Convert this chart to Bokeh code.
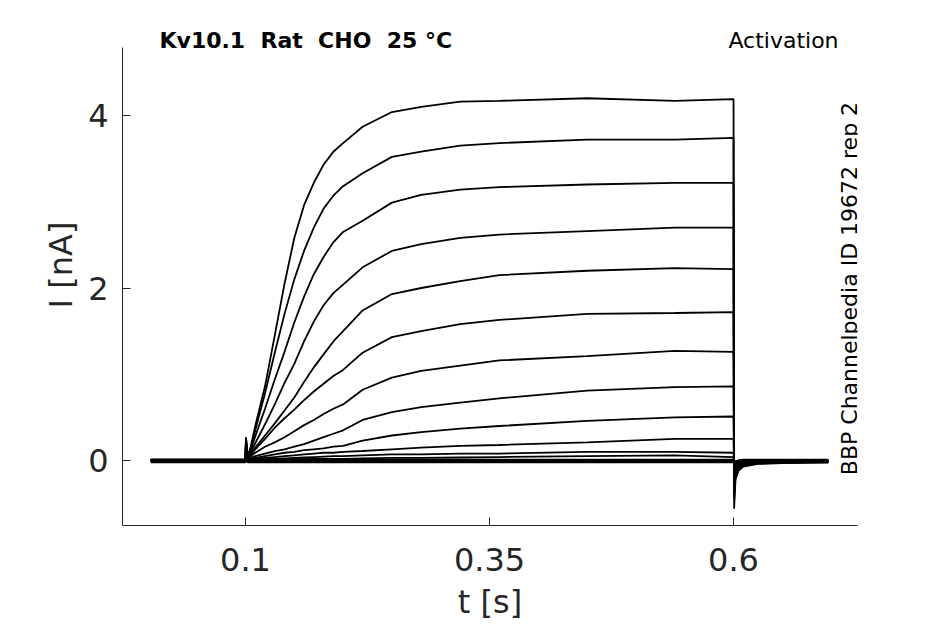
from bokeh.plotting import figure
from bokeh.models import Range1d, FixedTicker, Label
from bokeh.embed import file_html
from bokeh.resources import INLINE

# time points (s): pre-pulse, step, tail
T = [0.003, 0.0995,
     0.1, 0.1005, 0.102, 0.105, 0.11, 0.12, 0.13, 0.14, 0.15, 0.16, 0.17,
     0.18, 0.19, 0.2, 0.22, 0.25, 0.28, 0.32, 0.36, 0.45, 0.54, 0.6,
     0.6006, 0.602, 0.605, 0.61, 0.625, 0.65, 0.697]

# currents (nA), one list per sweep
trace_01 = [0.005, 0.005,
            0, 0.27, 0.05, 0.14, 0.40, 0.86, 1.45, 2.05, 2.58, 2.96, 3.22,
            3.43, 3.58, 3.68, 3.87, 4.04, 4.10, 4.16, 4.17, 4.20, 4.17, 4.19,
            -0.56, -0.22, -0.12, -0.07, -0.04, -0.03, -0.02]
trace_02 = [0.0, 0.0,
            0, 0.27, 0.04, 0.13, 0.35, 0.78, 1.25, 1.70, 2.10, 2.43, 2.70,
            2.92, 3.07, 3.18, 3.33, 3.52, 3.58, 3.65, 3.68, 3.72, 3.72, 3.74,
            -0.45, -0.18, -0.10, -0.06, -0.035, -0.025, -0.02]
trace_03 = [-0.005, -0.005,
            0, 0.26, 0.04, 0.11, 0.28, 0.60, 0.94, 1.26, 1.60, 1.90, 2.16,
            2.36, 2.53, 2.65, 2.78, 2.99, 3.08, 3.14, 3.17, 3.20, 3.22, 3.22,
            -0.38, -0.15, -0.09, -0.05, -0.03, -0.02, -0.015]
trace_04 = [0.01, 0.01,
            0, 0.25, 0.03, 0.09, 0.20, 0.42, 0.65, 0.90, 1.12, 1.38, 1.61,
            1.80, 1.94, 2.04, 2.24, 2.43, 2.51, 2.58, 2.62, 2.66, 2.70, 2.70,
            -0.30, -0.12, -0.07, -0.045, -0.03, -0.02, -0.015]
trace_05 = [0.0, 0.0,
            0, 0.24, 0.03, 0.07, 0.15, 0.29, 0.43, 0.58, 0.73, 0.91, 1.08,
            1.23, 1.38, 1.50, 1.74, 1.93, 2.00, 2.08, 2.15, 2.20, 2.23, 2.22,
            -0.24, -0.10, -0.06, -0.04, -0.025, -0.02, -0.01]
trace_06 = [-0.01, -0.01,
            0, 0.22, 0.02, 0.06, 0.13, 0.25, 0.38, 0.49, 0.59, 0.70, 0.80,
            0.89, 0.98, 1.05, 1.25, 1.43, 1.50, 1.58, 1.63, 1.70, 1.71, 1.72,
            -0.18, -0.08, -0.05, -0.03, -0.02, -0.015, -0.01]
trace_07 = [0.005, 0.005,
            0, 0.20, 0.02, 0.05, 0.09, 0.16, 0.21, 0.27, 0.34, 0.41, 0.47,
            0.54, 0.60, 0.65, 0.82, 0.96, 1.04, 1.10, 1.16, 1.21, 1.27, 1.26,
            -0.13, -0.06, -0.04, -0.025, -0.015, -0.01, -0.01]
trace_08 = [0.0, 0.0,
            0, 0.18, 0.01, 0.03, 0.05, 0.08, 0.11, 0.13, 0.16, 0.19, 0.23,
            0.27, 0.31, 0.35, 0.47, 0.56, 0.62, 0.67, 0.72, 0.81, 0.85, 0.86,
            -0.09, -0.045, -0.03, -0.02, -0.01, -0.01, -0.005]
trace_09 = [-0.005, -0.005,
            0, 0.15, 0.01, 0.02, 0.03, 0.05, 0.07, 0.09, 0.10, 0.12, 0.13,
            0.14, 0.16, 0.17, 0.23, 0.29, 0.33, 0.37, 0.40, 0.46, 0.50, 0.51,
            -0.06, -0.03, -0.02, -0.015, -0.01, -0.005, 0.0]
trace_10 = [0.01, 0.01,
            0, 0.12, 0.01, 0.01, 0.02, 0.03, 0.04, 0.05, 0.06, 0.07, 0.08,
            0.09, 0.09, 0.10, 0.11, 0.13, 0.15, 0.17, 0.18, 0.21, 0.25, 0.25,
            -0.04, -0.02, -0.015, -0.01, -0.005, 0.0, 0.0]
trace_11 = [-0.01, -0.01,
            0, 0.10, 0.0, 0.01, 0.01, 0.015, 0.02, 0.025, 0.03, 0.035, 0.04,
            0.045, 0.05, 0.05, 0.06, 0.07, 0.07, 0.08, 0.08, 0.10, 0.10, 0.09,
            -0.03, -0.015, -0.01, -0.005, 0.0, 0.0, 0.0]
trace_12 = [0.0, 0.0,
            0, 0.08, 0.0, 0.0, 0.005, 0.01, 0.01, 0.01, 0.015, 0.015, 0.02,
            0.02, 0.02, 0.02, 0.025, 0.03, 0.03, 0.035, 0.04, 0.05, 0.06, 0.04,
            -0.02, -0.01, -0.005, 0.0, 0.0, 0.0, 0.005]
trace_13 = [0.01, 0.01,
            0.01, 0.06, 0.01, 0.01, 0.01, 0.01, 0.01, 0.01, 0.01, 0.01, 0.01,
            0.01, 0.01, 0.01, 0.01, 0.01, 0.01, 0.01, 0.01, 0.01, 0.01, 0.01,
            -0.02, -0.01, 0.0, 0.01, 0.01, 0.01, 0.01]
trace_14 = [0.0, 0.0,
            0.0, 0.05, 0.0, 0.0, 0.0, 0.0, 0.0, 0.0, 0.0, 0.0, 0.0,
            0.0, 0.0, 0.0, 0.0, 0.0, 0.0, 0.0, 0.0, 0.0, 0.0, 0.0,
            -0.02, -0.01, 0.0, 0.0, 0.0, 0.0, 0.0]
trace_15 = [-0.01, -0.01,
            -0.01, 0.04, -0.01, -0.01, -0.01, -0.01, -0.01, -0.01, -0.01, -0.01, -0.01,
            -0.01, -0.01, -0.01, -0.01, -0.01, -0.01, -0.01, -0.01, -0.01, -0.01, -0.01,
            -0.03, -0.02, -0.015, -0.01, -0.01, -0.01, -0.01]
trace_16 = [-0.02, -0.02,
            -0.02, 0.03, -0.02, -0.02, -0.02, -0.02, -0.02, -0.02, -0.02, -0.02, -0.02,
            -0.02, -0.02, -0.02, -0.02, -0.02, -0.02, -0.02, -0.02, -0.02, -0.02, -0.02,
            -0.04, -0.03, -0.025, -0.02, -0.02, -0.02, -0.02]

TRACES = [trace_01, trace_02, trace_03, trace_04, trace_05, trace_06, trace_07, trace_08,
          trace_09, trace_10, trace_11, trace_12, trace_13, trace_14, trace_15, trace_16]

X_TICKS = [0.1, 0.35, 0.6]
X_TICK_LABELS = ["0.1", "0.35", "0.6"]
Y_TICKS = [0, 2, 4]
Y_TICK_LABELS = ["0", "2", "4"]

# double gaps kept with a no-break space so SVG does not collapse them
TITLE_TEXT = "Kv10.1\u00a0 Rat\u00a0 CHO\u00a0 25 \u00b0C"
PROTOCOL_TEXT = "Activation"
SOURCE_TEXT = "BBP Channelpedia ID 19672 rep 2"

FONT = "DejaVu Sans"
AX_COLOR = "#262626"

X_MIN, X_MAX = -0.026, 0.727
Y_AXIS_MIN, Y_AXIS_MAX = -0.7536, 4.788   # extent of the drawn y axis
Y_VIEW_MAX = 5.287                        # room above the axes for the header texts

p = figure(width=944, height=624, output_backend="svg", toolbar_location=None,
           title=None,
           x_range=Range1d(X_MIN, X_MAX), y_range=Range1d(Y_AXIS_MIN, Y_VIEW_MAX),
           min_border_left=122, min_border_right=87, min_border_top=4,
           min_border_bottom=99)
p.outline_line_color = None
p.xgrid.visible = False
p.ygrid.visible = False
p.background_fill_color = "white"
p.border_fill_color = "white"

for tr in TRACES:
    p.line(T, tr, line_color="black", line_width=1.8)

for ax in (p.xaxis[0], p.yaxis[0]):
    ax.axis_line_color = AX_COLOR
    ax.axis_line_width = 1
    ax.major_tick_line_color = AX_COLOR
    ax.major_tick_in = 8
    ax.major_tick_out = 0
    ax.minor_tick_line_color = None
    ax.major_label_text_font = FONT
    ax.major_label_text_font_size = "32px"
    ax.major_label_text_color = AX_COLOR
    ax.axis_label_text_font = FONT
    ax.axis_label_text_font_size = "32px"
    ax.axis_label_text_font_style = "normal"
    ax.axis_label_text_color = AX_COLOR

p.yaxis.bounds = (Y_AXIS_MIN, Y_AXIS_MAX)
p.xaxis.ticker = FixedTicker(ticks=X_TICKS)
p.xaxis.major_label_overrides = dict(zip(X_TICKS, X_TICK_LABELS))
p.yaxis.ticker = FixedTicker(ticks=Y_TICKS)
p.yaxis.major_label_overrides = dict(zip(Y_TICKS, Y_TICK_LABELS))
p.xaxis.axis_label = "t [s]"
p.yaxis.axis_label = "I [nA]"
p.xaxis.major_label_standoff = 22
p.yaxis.major_label_standoff = 14
p.xaxis.axis_label_standoff = 9
p.yaxis.axis_label_standoff = 5

p.add_layout(Label(x=0.0119, y=4.873, text=TITLE_TEXT, text_font=FONT,
                   text_font_size="22px", text_font_style="bold",
                   text_color="black", text_align="left", text_baseline="alphabetic"))
p.add_layout(Label(x=0.7076, y=4.873, text=PROTOCOL_TEXT, text_font=FONT,
                   text_font_size="22px", text_color="black",
                   text_align="right", text_baseline="alphabetic"))
p.add_layout(Label(x=0.719, y=-0.17, text=SOURCE_TEXT, text_font=FONT,
                   text_font_size="22px", text_color="black", angle=1.5708,
                   text_align="left", text_baseline="middle"))

open("out.html", "w").write(file_html(p, INLINE))
